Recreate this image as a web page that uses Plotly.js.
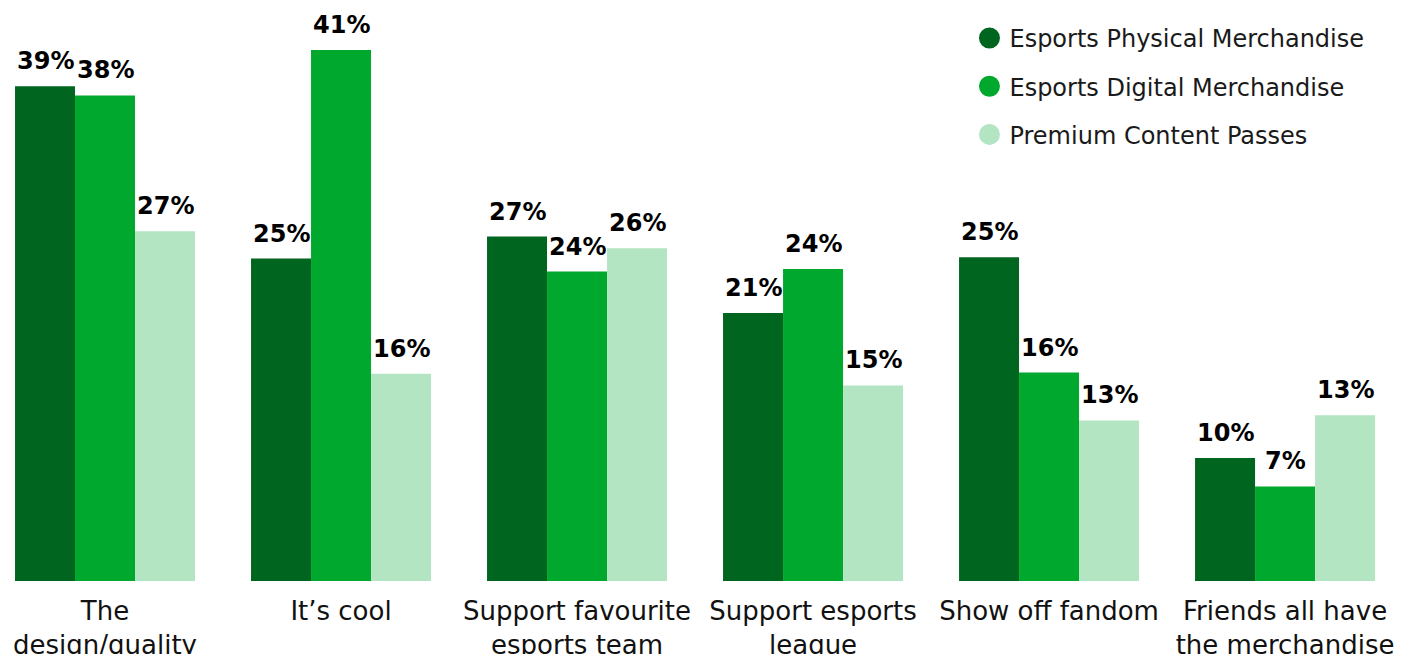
<!DOCTYPE html>
<html>
<head>
<meta charset="utf-8">
<script src="https://cdn.plot.ly/plotly-3.0.1.min.js"></script>
<style>
  html, body { margin: 0; padding: 0; background: #ffffff; }
  #chart { width: 1404px; height: 654px; }
</style>
</head>
<body>
<div id="chart"></div>
<script>
// ---- Data ----
const categories = [
  "The<br>design/quality",
  "It’s cool",
  "Support favourite<br>esports team",
  "Support esports<br>league",
  "Show off fandom",
  "Friends all have<br>the merchandise"
];
const seriesNames = [
  "Esports Physical Merchandise",
  "Esports Digital Merchandise",
  "Premium Content Passes"
];
// bar heights (percent)
const physical = [38.2, 24.9, 26.6, 20.7, 25.0, 9.5];
const digital  = [37.5, 41.0, 23.9, 24.1, 16.1, 7.3];
const premium  = [27.0, 16.0, 25.7, 15.1, 12.4, 12.8];
// printed value labels
const physicalLabels = ["39%", "25%", "27%", "21%", "25%", "10%"];
const digitalLabels  = ["38%", "41%", "24%", "24%", "16%", "7%"];
const premiumLabels  = ["27%", "16%", "26%", "15%", "13%", "13%"];

const colors = ["#00651e", "#00a82e", "#b3e5c2"];
const values = [physical, digital, premium];
const labels = [physicalLabels, digitalLabels, premiumLabels];

const BARGAP = 0.2373;
const nSeries = values.length;
const barUnit = (1 - BARGAP) / nSeries;  // width of one bar in category units

const traces = [];
for (let i = 0; i < nSeries; i++) {
  traces.push({
    type: "bar",
    name: seriesNames[i],
    x: categories,
    y: values[i],
    marker: { color: colors[i], line: { width: 0 } },
    showlegend: false,
    hoverinfo: "skip"
  });
}
// legend entries with round markers
for (let i = 0; i < nSeries; i++) {
  traces.push({
    type: "scatter",
    mode: "markers",
    name: seriesNames[i],
    x: [null],
    y: [null],
    legendgroup: "g" + i,
    marker: { color: colors[i], size: 16, symbol: "circle", line: { color: colors[i], width: 5 } },
    showlegend: true,
    hoverinfo: "skip"
  });
}

// value labels above each bar, placed on the axes' own scales
const annotations = [];
for (let i = 0; i < nSeries; i++) {
  for (let j = 0; j < categories.length; j++) {
    annotations.push({
      xref: "x", yref: "y",
      x: j + (i - (nSeries - 1) / 2) * barUnit,
      y: values[i][j],
      text: labels[i][j],
      showarrow: false,
      xanchor: "center",
      yanchor: "bottom",
      yshift: 9,
      font: { family: "DejaVu Sans", size: 24, color: "#000000", weight: "bold" }
    });
  }
}

const layout = {
  width: 1404,
  height: 654,
  margin: { l: 0, r: 0, t: 5, b: 73 },
  paper_bgcolor: "#ffffff",
  plot_bgcolor: "#ffffff",
  barmode: "group",
  bargap: BARGAP,
  bargroupgap: 0,
  font: { family: "DejaVu Sans", color: "#000000" },
  xaxis: {
    type: "category",
    range: [-0.445, 5.504],
    showgrid: false,
    zeroline: false,
    showline: false,
    ticks: "",
    ticklabelstandoff: 12,
    tickfont: { family: "DejaVu Sans", size: 26, color: "#111111" },
    fixedrange: true
  },
  yaxis: {
    range: [0, 44.48],
    visible: false,
    showgrid: false,
    zeroline: false,
    fixedrange: true
  },
  annotations: annotations,
  showlegend: true,
  legend: {
    x: 0.6905,
    y: 0.981,
    xanchor: "left",
    yanchor: "top",
    orientation: "v",
    tracegroupgap: 14,
    font: { family: "DejaVu Sans", size: 24, color: "#1a1a1a" },
    bgcolor: "rgba(0,0,0,0)"
  }
};

Plotly.newPlot("chart", traces, layout, { displayModeBar: false, staticPlot: true });
</script>
</body>
</html>
